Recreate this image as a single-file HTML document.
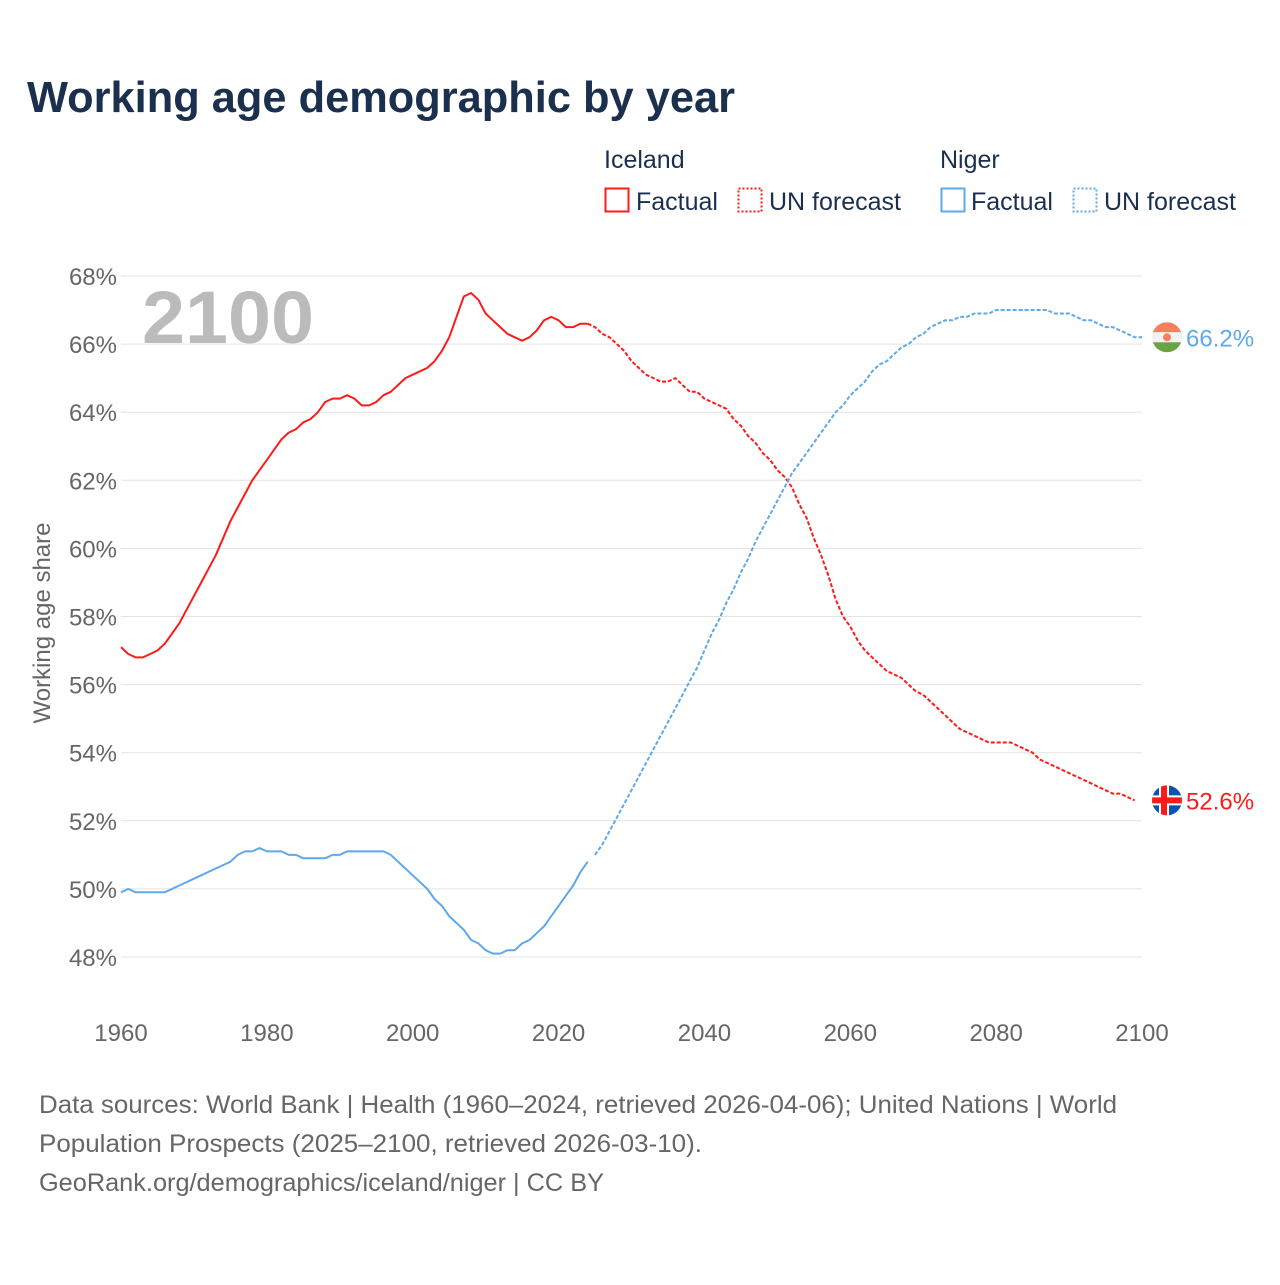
<!DOCTYPE html>
<html><head><meta charset="utf-8"><style>
body{margin:0;background:#fff;width:1280px;height:1280px;overflow:hidden;font-family:"Liberation Sans",sans-serif}
svg text{font-family:"Liberation Sans",sans-serif}
</style></head><body>
<svg id="chart" width="1280" height="1280" xmlns="http://www.w3.org/2000/svg">
<text x="27" y="112" font-size="44" font-weight="bold" fill="#1b2f4e" textLength="708" lengthAdjust="spacingAndGlyphs">Working age demographic by year</text>
<g font-size="25" fill="#1b2f4e">
<text x="604" y="168">Iceland</text>
<rect x="605.5" y="188.5" width="23" height="23" fill="none" stroke="#ff1a1a" stroke-width="2"/>
<text x="636" y="210">Factual</text>
<rect x="738.5" y="188.5" width="23" height="23" fill="none" stroke="#ff1a1a" stroke-width="2" stroke-dasharray="2 2"/>
<text x="769" y="210">UN forecast</text>
<text x="940" y="168">Niger</text>
<rect x="941.5" y="188.5" width="23" height="23" fill="none" stroke="#5ea8ec" stroke-width="2"/>
<text x="971" y="210">Factual</text>
<rect x="1073.5" y="188.5" width="23" height="23" fill="none" stroke="#5ea8ec" stroke-width="2" stroke-dasharray="2 2"/>
<text x="1104" y="210">UN forecast</text>
</g>
<g id="grid"></g>
<text x="142" y="343" font-size="74" font-weight="bold" fill="#bbbbbb" textLength="172" lengthAdjust="spacingAndGlyphs">2100</text>
<text transform="translate(50,623) rotate(-90)" text-anchor="middle" font-size="24" fill="#666">Working age share</text>
<g id="series"></g>
<g id="ends"></g>
<g font-size="25" fill="#666">
<text x="39" y="1113" textLength="1078" lengthAdjust="spacingAndGlyphs">Data sources: World Bank | Health (1960–2024, retrieved 2026-04-06); United Nations | World</text>
<text x="39" y="1152" textLength="663" lengthAdjust="spacingAndGlyphs">Population Prospects (2025–2100, retrieved 2026-03-10).</text>
<text x="39" y="1191" textLength="565" lengthAdjust="spacingAndGlyphs">GeoRank.org/demographics/iceland/niger | CC BY</text>
</g>
</svg>
<script>
const startYear = 1960;
const icelandFactual = [57.1,56.9,56.8,56.8,56.9,57.0,57.2,57.5,57.8,58.2,58.6,59.0,59.4,59.8,60.3,60.8,61.2,61.6,62.0,62.3,62.6,62.9,63.2,63.4,63.5,63.7,63.8,64.0,64.3,64.4,64.4,64.5,64.4,64.2,64.2,64.3,64.5,64.6,64.8,65.0,65.1,65.2,65.3,65.5,65.8,66.2,66.8,67.4,67.5,67.3,66.9,66.7,66.5,66.3,66.2,66.1,66.2,66.4,66.7,66.8,66.7,66.5,66.5,66.6,66.6];
const icelandForecast = [66.6,66.5,66.3,66.2,66.0,65.8,65.5,65.3,65.1,65.0,64.9,64.9,65.0,64.8,64.6,64.6,64.4,64.3,64.2,64.1,63.8,63.6,63.3,63.1,62.8,62.6,62.3,62.1,61.8,61.3,60.9,60.3,59.8,59.2,58.5,58.0,57.7,57.3,57.0,56.8,56.6,56.4,56.3,56.2,56.0,55.8,55.7,55.5,55.3,55.1,54.9,54.7,54.6,54.5,54.4,54.3,54.3,54.3,54.3,54.2,54.1,54.0,53.8,53.7,53.6,53.5,53.4,53.3,53.2,53.1,53.0,52.9,52.8,52.8,52.7,52.6];
const nigerFactual = [49.9,50.0,49.9,49.9,49.9,49.9,49.9,50.0,50.1,50.2,50.3,50.4,50.5,50.6,50.7,50.8,51.0,51.1,51.1,51.2,51.1,51.1,51.1,51.0,51.0,50.9,50.9,50.9,50.9,51.0,51.0,51.1,51.1,51.1,51.1,51.1,51.1,51.0,50.8,50.6,50.4,50.2,50.0,49.7,49.5,49.2,49.0,48.8,48.5,48.4,48.2,48.1,48.1,48.2,48.2,48.4,48.5,48.7,48.9,49.2,49.5,49.8,50.1,50.5,50.8];
const nigerForecast = [51.0,51.3,51.7,52.1,52.5,52.9,53.3,53.7,54.1,54.5,54.9,55.3,55.7,56.1,56.5,57.0,57.5,57.9,58.4,58.8,59.3,59.7,60.2,60.6,61.0,61.4,61.8,62.2,62.5,62.8,63.1,63.4,63.7,64.0,64.2,64.5,64.7,64.9,65.2,65.4,65.5,65.7,65.9,66.0,66.2,66.3,66.5,66.6,66.7,66.7,66.8,66.8,66.9,66.9,66.9,67.0,67.0,67.0,67.0,67.0,67.0,67.0,67.0,66.9,66.9,66.9,66.8,66.7,66.7,66.6,66.5,66.5,66.4,66.3,66.2,66.2];
const yTicks = [48,50,52,54,56,58,60,62,64,66,68];
const xTicks = [1960,1980,2000,2020,2040,2060,2080,2100];

const NS='http://www.w3.org/2000/svg';
const x = y => 121 + (y-1960)*(1142-121)/140;
const yy = v => 957 - (v-48)*(957-276)/20;
function mk(tag, attrs, parent){const e=document.createElementNS(NS,tag);for(const k in attrs)e.setAttribute(k,attrs[k]);parent.appendChild(e);return e;}
const grid=document.getElementById('grid');
yTicks.forEach(t=>{
  const l=mk('line',{x1:121,x2:1142,y1:yy(t),y2:yy(t),stroke:'#e3e3e3','stroke-width':1},grid);
  
  
  const tx=mk('text',{x:117,y:yy(t)+9,'text-anchor':'end','font-size':24,fill:'#666'},grid);
  tx.textContent=t+'%';
  
  
});
xTicks.forEach(t=>{
  const tx=mk('text',{x:x(t),y:1041,'text-anchor':'middle','font-size':24,fill:'#666'},grid);
  tx.textContent=t;
  
  
});
const series=document.getElementById('series');
function line(vals, start, color, dash, name){
  const d=vals.map((v,i)=>(i?'L':'M')+x(start+i).toFixed(1)+','+yy(v).toFixed(1)).join('');
  const p=mk('path',{d:d,fill:'none',stroke:color,'stroke-width':2,'stroke-linejoin':'round'},series);
  if(dash)p.setAttribute('stroke-dasharray',dash);
  
  
}
line(icelandFactual,startYear,'#ff1a1a',null,'iceland-factual-line');
line(icelandForecast,2024,'#ff1a1a','4 2','iceland-forecast-line');
line(nigerFactual,startYear,'#5ea8ec',null,'niger-factual-line');
line(nigerForecast,2025,'#5ea8ec','4 2','niger-forecast-line');

const ends=document.getElementById('ends');
const nLast=nigerForecast[nigerForecast.length-1], iLast=icelandForecast[icelandForecast.length-1];
const ny=yy(nLast), iy=yy(iLast), fx=1167;
const ng=mk('g',{},ends);


const cn=mk('clipPath',{id:'cn'},ng);mk('circle',{cx:fx,cy:ny,r:15},cn);
const ngc=mk('g',{'clip-path':'url(#cn)'},ng);
mk('rect',{x:fx-15,y:ny-15,width:30,height:10,fill:'#f77f5e'},ngc);
mk('rect',{x:fx-15,y:ny-5,width:30,height:10,fill:'#f2f2f2'},ngc);
mk('rect',{x:fx-15,y:ny+5,width:30,height:10,fill:'#6aa341'},ngc);
mk('circle',{cx:fx,cy:ny,r:4,fill:'#f77f5e'},ngc);
const nt=mk('text',{x:1186,y:ny+9,'font-size':24,fill:'#5ea8ec'},ends);
nt.textContent=nLast.toFixed(1)+'%';


const ig=mk('g',{},ends);


const cp=mk('clipPath',{id:'ci'},ig);mk('circle',{cx:fx,cy:iy,r:15},cp);
const igc=mk('g',{'clip-path':'url(#ci)'},ig);
mk('rect',{x:fx-15,y:iy-15,width:30,height:30,fill:'#0b52b3'},igc);
mk('rect',{x:fx-15,y:iy-5,width:30,height:10,fill:'#fff'},igc);
mk('rect',{x:fx-8,y:iy-15,width:10,height:30,fill:'#fff'},igc);
mk('rect',{x:fx-15,y:iy-3,width:30,height:6,fill:'#ff1a1a'},igc);
mk('rect',{x:fx-6,y:iy-15,width:6,height:30,fill:'#ff1a1a'},igc);
const it=mk('text',{x:1186,y:iy+9,'font-size':24,fill:'#ff1a1a'},ends);
it.textContent=iLast.toFixed(1)+'%';


</script>
</body></html>
